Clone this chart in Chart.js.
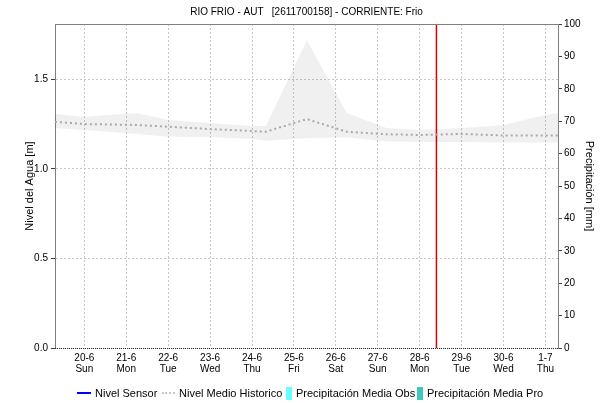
<!DOCTYPE html>
<html>
<head>
<meta charset="utf-8">
<script src="https://cdn.jsdelivr.net/npm/chart.js@4.4.1/dist/chart.umd.min.js"></script>
<style>
  body { margin: 0; background: #fff; }
  #wrap { position: relative; width: 600px; height: 403px; }
  #legend { position: absolute; left: 0; top: 386px; width: 600px; height: 14px;
            font: 11px "Liberation Sans", Arial, sans-serif; color: #000; }
  .item { position: absolute; top: 0; height: 14px; display: flex; align-items: center; white-space: nowrap; }
  .mark { display: inline-block; margin-right: 4px; }
</style>
</head>
<body>
<div id="wrap">
  <canvas id="chart" width="600" height="403"></canvas>
  <div id="legend"></div>
</div>
<script>
// Data
const dayTicks = [0, 1, 2, 3, 4, 5, 6, 7, 8, 9, 10, 11];
const dayLabels = ['20-6', '21-6', '22-6', '23-6', '24-6', '25-6', '26-6', '27-6', '28-6', '29-6', '30-6', '1-7'];
const weekDays = ['Sun', 'Mon', 'Tue', 'Wed', 'Thu', 'Fri', 'Sat', 'Sun', 'Mon', 'Tue', 'Wed', 'Thu'];

// historic band (days from 20-6)
const bandDays  = [-0.7, 0, 1.25, 2, 3, 4, 4.33, 5.31, 6.26, 7.21, 8, 9, 10, 11, 11.3];
const bandUpper = [1.307, 1.292, 1.313, 1.274, 1.257, 1.240, 1.240, 1.721, 1.313, 1.229, 1.218, 1.229, 1.246, 1.302, 1.313];
const meanLevel = [1.264, 1.251, 1.246, 1.236, 1.223, 1.212, 1.208, 1.279, 1.208, 1.194, 1.190, 1.196, 1.187, 1.187, 1.187];
const bandLower = [1.229, 1.218, 1.196, 1.180, 1.179, 1.168, 1.158, 1.172, 1.177, 1.153, 1.151, 1.151, 1.148, 1.148, 1.148];

// no readings in this period
const sensorLevel = [];
const precipObs = [];
const precipPro = [];

const nowDay = 8.4;
const xMin = -0.7, xMax = 11.3;
const yMax = 1.81;
const levelTicks = [0, 0.5, 1.0, 1.5];

const seriesNames = ['Nivel Sensor', 'Nivel Medio Historico', 'Precipitación Media Obs', 'Precipitación Media Pro'];

const FONT = '"Liberation Sans", Arial, sans-serif';
const pts = (ys) => bandDays.map((x, i) => ({ x, y: ys[i] }));

// top frame line + dotted bottom line
const frame = {
  id: 'frame',
  afterDraw(chart) {
    const { ctx, chartArea: a } = chart;
    ctx.save();
    ctx.lineWidth = 1;
    ctx.strokeStyle = '#808080';
    ctx.beginPath();
    ctx.moveTo(a.left, a.top + 0.5);
    ctx.lineTo(a.right, a.top + 0.5);
    ctx.stroke();
    ctx.strokeStyle = '#303030';
    ctx.setLineDash([1, 1]);
    ctx.beginPath();
    ctx.moveTo(a.left, Math.round(a.bottom) + 0.5);
    ctx.lineTo(a.right, Math.round(a.bottom) + 0.5);
    ctx.stroke();
    ctx.restore();
  }
};

new Chart(document.getElementById('chart'), {
  type: 'line',
  data: {
    datasets: [
      { label: 'upper', data: pts(bandUpper), fill: '+1', backgroundColor: 'rgba(0,0,0,0.06)', borderWidth: 0, pointRadius: 0, tension: 0 },
      { label: 'lower', data: pts(bandLower), fill: false, borderWidth: 0, pointRadius: 0, tension: 0 },
      { label: seriesNames[1], data: pts(meanLevel), borderColor: '#b4b4b4', borderWidth: 2, borderDash: [2, 3], pointRadius: 0, tension: 0, fill: false },
      { label: seriesNames[0], data: sensorLevel, borderColor: '#0000ff', borderWidth: 1.5, pointRadius: 0, fill: false },
      { type: 'bar', label: seriesNames[2], data: precipObs, backgroundColor: '#66ffff', yAxisID: 'y2' },
      { type: 'bar', label: seriesNames[3], data: precipPro, backgroundColor: '#40c8c0', yAxisID: 'y2' },
      { label: 'now', data: [{ x: nowDay, y: 0 }, { x: nowDay, y: yMax }], borderColor: '#e00000', borderWidth: 1.5, pointRadius: 0, fill: false },
      { label: 'now2', data: [{ x: nowDay, y: 0 }, { x: nowDay, y: yMax }], borderColor: '#700000', borderWidth: 1, borderDash: [1, 4], pointRadius: 0, fill: false }
    ]
  },
  options: {
    responsive: false,
    animation: false,
    devicePixelRatio: 1,
    layout: { padding: 0 },
    plugins: {
      legend: { display: false },
      tooltip: { enabled: false },
      title: {
        display: true,
        fullSize: false,
        text: 'RIO FRIO - AUT   [2611700158] - CORRIENTE: Frio',
        color: '#000',
        font: { family: FONT, size: 10, weight: 'normal', lineHeight: 1.2 },
        padding: { top: 6, bottom: 6 }
      }
    },
    scales: {
      x: {
        type: 'linear',
        offset: false,
        min: xMin, max: xMax,
        afterBuildTicks: (s) => { s.ticks = dayTicks.map(v => ({ value: v })); },
        afterFit: (s) => { s.height = 55; },
        grid: { color: '#c8c8c8', drawTicks: false, offset: false },
        border: { display: false, dash: [2, 2] },
        ticks: {
          padding: 5,
          color: '#000',
          maxRotation: 0,
          autoSkip: false,
          font: { family: FONT, size: 10, lineHeight: 1.1 },
          callback: (v) => {
            const i = dayTicks.indexOf(v);
            return i < 0 ? '' : [dayLabels[i], weekDays[i]];
          }
        }
      },
      y: {
        position: 'left',
        min: 0, max: yMax,
        afterBuildTicks: (s) => { s.ticks = levelTicks.map(v => ({ value: v })); },
        afterFit: (s) => { s.width = 55; },
        grid: { color: '#c8c8c8', tickColor: '#404040', tickBorderDash: [], tickLength: 4 },
        border: { color: '#808080', dash: [2, 2] },
        ticks: {
          padding: 3,
          color: '#000',
          font: { family: FONT, size: 10 },
          callback: (v) => v.toFixed(1)
        },
        title: {
          display: true,
          text: 'Nivel del Agua [m]',
          color: '#000',
          font: { family: FONT, size: 11 },
          padding: { top: 23, bottom: 0 }
        }
      },
      y2: {
        position: 'right',
        min: 0, max: 100,
        afterFit: (s) => { s.width = 42; },
        grid: { drawOnChartArea: false, tickColor: '#404040', tickLength: 4 },
        border: { color: '#808080' },
        ticks: {
          stepSize: 10,
          padding: 2,
          color: '#000',
          font: { family: FONT, size: 10 }
        },
        title: {
          display: true,
          text: 'Precipitación [mm]',
          color: '#000',
          font: { family: FONT, size: 11 },
          padding: { top: 4, bottom: 0 }
        }
      }
    }
  },
  plugins: [frame]
});

// Legend
const legendLeft = [77, 162, 286, 417];
const legendMarks = [
  'width:14px;height:2px;background:#0000ff;',
  'width:13px;height:0;border-top:2px dotted #c8c8c8;',
  'width:6px;height:13px;background:#66ffff;',
  'width:6px;height:13px;background:#40c8c0;'
];
const legend = document.getElementById('legend');
legend.innerHTML = seriesNames.map((name, i) => `
  <div class="item" style="left:${legendLeft[i]}px">
    <span class="mark" style="${legendMarks[i]}"></span><span>${name}</span>
  </div>
`).join('');
</script>
</body>
</html>
